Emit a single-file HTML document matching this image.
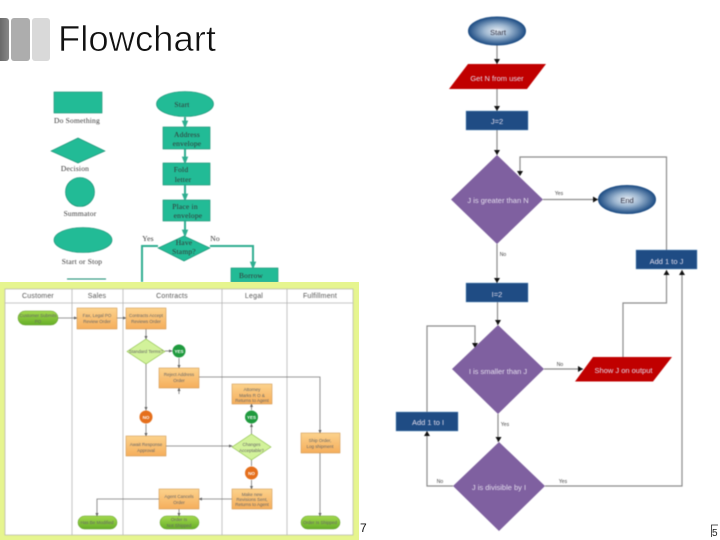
<!DOCTYPE html>
<html><head><meta charset="utf-8"><style>
html,body{margin:0;padding:0;background:#fff;width:720px;height:540px;overflow:hidden}
svg{display:block;position:absolute;left:0;top:0}
text{font-family:"Liberation Sans",sans-serif}
.s text{font-family:"Liberation Serif",serif;font-size:7.5px;fill:#333;text-anchor:middle;letter-spacing:.2px}
.l text{font-size:4.5px;fill:#666;text-anchor:middle}
.l .h{font-size:7px;fill:#555;letter-spacing:.2px}
.l .w{fill:#fff;font-weight:bold}
.r text{text-anchor:middle;font-size:7.5px;fill:#e2dcec}
.r .t{font-size:5px;fill:#444}
.r .d{fill:#334}
</style></head><body>
<svg width="720" height="540" viewBox="0 0 720 540">
<defs>
<linearGradient id="b1" x1="0" x2="1" y1="0" y2="0"><stop offset="0" stop-color="#555"/><stop offset="1" stop-color="#888"/></linearGradient>
<radialGradient id="e"><stop offset="0" stop-color="#e8eef5"/><stop offset=".45" stop-color="#9db6d0"/><stop offset="1" stop-color="#1f4e85"/></radialGradient>
<linearGradient id="o" x1="0" x2="0" y1="0" y2="1"><stop offset="0" stop-color="#fcd28c"/><stop offset="1" stop-color="#f5ae5c"/></linearGradient>
<linearGradient id="g" x1="0" x2="0" y1="0" y2="1"><stop offset="0" stop-color="#a3d94e"/><stop offset="1" stop-color="#66ae28"/></linearGradient>
<marker id="at" viewBox="0 0 10 10" refX="8" refY="5" markerWidth="4" markerHeight="4" orient="auto"><path d="M0 1L10 5L0 9z" fill="#2fae90"/></marker>
<marker id="ag" viewBox="0 0 10 10" refX="8" refY="5" markerWidth="5" markerHeight="5" orient="auto"><path d="M0 1L10 5L0 9z" fill="#666"/></marker>
</defs>

<!-- title bars -->
<g style="filter:blur(.3px)">
<rect x="-6" y="18" width="15" height="43" rx="3" fill="url(#b1)"/>
<rect x="11" y="18" width="19" height="43" rx="3" fill="#adadad"/>
<rect x="32" y="18" width="18" height="43" rx="3" fill="#d9d9d9"/>
</g>
<text x="58" y="51" font-size="36" textLength="158" lengthAdjust="spacingAndGlyphs" fill="#111" stroke="#fff" stroke-width=".6">Flowchart</text>

<!-- teal flowchart -->
<g class="s" style="filter:blur(.4px)">
<g fill="#22bb96" stroke="#128a6c" stroke-width=".6">
<rect x="54" y="92" width="48" height="21"/>
<polygon points="51,151 78,138 105,151 78,163"/>
<circle cx="80" cy="192" r="14.5"/>
<ellipse cx="83" cy="240" rx="29" ry="12.5"/>
<ellipse cx="185" cy="104" rx="28.5" ry="12.5"/>
<rect x="163" y="127" width="47" height="22"/>
<rect x="163" y="163" width="47" height="22"/>
<rect x="163" y="200" width="47" height="21"/>
<polygon points="158,248 184,236 210,248 184,261"/>
<rect x="231" y="268" width="47" height="14"/>
</g>
<g stroke="#2fae90" stroke-width="2" fill="none">
<path d="M185 117V127" marker-end="url(#at)"/>
<path d="M185 149V163" marker-end="url(#at)"/>
<path d="M185 185V200" marker-end="url(#at)"/>
<path d="M185 221V236" marker-end="url(#at)"/>
<path d="M158 246H142V282"/>
<path d="M210 246H253V268" marker-end="url(#at)"/>
</g>
<path d="M67 279H106" stroke="#128a6c" stroke-width="1"/>
<text x="77" y="123">Do Something</text>
<text x="75" y="171">Decision</text>
<text x="80" y="216">Summator</text>
<text x="82" y="264">Start or Stop</text>
<text x="182" y="107">Start</text>
<text x="187" y="137">Address</text>
<text x="187" y="146">envelope</text>
<text x="181" y="172">Fold</text>
<text x="183" y="182">letter</text>
<text x="185" y="209">Place in</text>
<text x="188" y="218">envelope</text>
<text x="184" y="245">Have</text>
<text x="184" y="254">Stamp?</text>
<text x="148" y="241">Yes</text>
<text x="215" y="241">No</text>
<text x="251" y="278">Borrow</text>
</g>

<!-- swimlane -->
<rect x="0" y="282" width="359" height="258" fill="#e6f58f"/>
<g class="l" style="filter:blur(.45px)">
<rect x="5" y="289" width="348" height="246" fill="#fff" stroke="#aaa" stroke-width=".6"/>
<g stroke="#b5b5b5" stroke-width=".8">
<path d="M5 303H353M72 289V535M123 289V535M222 289V535M287 289V535"/>
</g>
<text class="h" x="38" y="298">Customer</text>
<text class="h" x="97" y="298">Sales</text>
<text class="h" x="172" y="298">Contracts</text>
<text class="h" x="254" y="298">Legal</text>
<text class="h" x="320" y="298">Fulfillment</text>
<g stroke="#777" stroke-width=".8" fill="none">
<path d="M58 318H77" marker-end="url(#ag)"/>
<path d="M117 318H126" marker-end="url(#ag)"/>
<path d="M146 329V339" marker-end="url(#ag)"/>
<path d="M146 364V410" marker-end="url(#ag)"/>
<path d="M165 351H172" marker-end="url(#ag)"/>
<path d="M179 358V368" marker-end="url(#ag)"/>
<path d="M179 394V388" marker-end="url(#ag)"/>
<path d="M199 377H320V433" marker-end="url(#ag)"/>
<path d="M251.5 410V404" marker-end="url(#ag)"/>
<path d="M251.5 434V424" marker-end="url(#ag)"/>
<path d="M146 424V436" marker-end="url(#ag)"/>
<path d="M166 446H232" marker-end="url(#ag)"/>
<path d="M251.5 460V466"/>
<path d="M251.5 480V489" marker-end="url(#ag)"/>
<path d="M232 499H199" marker-end="url(#ag)"/>
<path d="M159 499H97V516" marker-end="url(#ag)"/>
<path d="M179 509V516" marker-end="url(#ag)"/>
<path d="M320 453V516" marker-end="url(#ag)"/>
</g>
<g fill="url(#o)" stroke="#c98d45" stroke-width=".5">
<rect x="77" y="308" width="40" height="21"/>
<rect x="126" y="308" width="40" height="21"/>
<rect x="159" y="368" width="40" height="20"/>
<rect x="232" y="384" width="40" height="20"/>
<rect x="126" y="436" width="40" height="20"/>
<rect x="232" y="489" width="40" height="20"/>
<rect x="159" y="489" width="40" height="20"/>
<rect x="301" y="433" width="39" height="20"/>
</g>
<g fill="#d2f29a" stroke="#8cc04a" stroke-width=".6">
<polygon points="127,351.5 146,339 165,351.5 146,364"/>
<polygon points="232,447 251.5,434 271,447 251.5,460"/>
</g>
<g fill="url(#g)" stroke="#5c9a25" stroke-width=".5">
<rect x="18" y="311" width="40" height="14" rx="7"/>
<rect x="78" y="516" width="39" height="13" rx="6.5"/>
<rect x="160" y="516" width="39" height="13" rx="6.5"/>
<rect x="301" y="516" width="39" height="13" rx="6.5"/>
</g>
<circle cx="179" cy="351" r="6.5" fill="#1f9a3e"/>
<circle cx="251.5" cy="417" r="6.5" fill="#1f9a3e"/>
<circle cx="146" cy="417" r="6.5" fill="#e56f1c"/>
<circle cx="251.5" cy="473" r="6.5" fill="#e56f1c"/>
<text class="w" x="179" y="353">YES</text>
<text class="w" x="251.5" y="419">YES</text>
<text class="w" x="146" y="419">NO</text>
<text class="w" x="251.5" y="475">NO</text>
<text x="38" y="317">Customer Submits</text><text x="38" y="323">PO</text>
<text x="97" y="317">Fax, Legal PO</text><text x="97" y="323">Review Order</text>
<text x="146" y="317">Contracts Accept</text><text x="146" y="323">Reviews Order</text>
<text x="146" y="353">Standard Terms?</text>
<text x="179" y="376">Reject Address</text><text x="179" y="382">Order</text>
<text x="252" y="391">Attorney</text><text x="252" y="397">Marks R O &amp;</text><text x="252" y="402">Returns to Agent</text>
<text x="146" y="446">Await Response</text><text x="146" y="452">Approval</text>
<text x="251.5" y="446">Changes</text><text x="251.5" y="452">Acceptable?</text>
<text x="252" y="496">Make new</text><text x="252" y="501">Revisions Sent,</text><text x="252" y="506">Returns to Agent</text>
<text x="179" y="498">Agent Cancels</text><text x="179" y="504">Order</text>
<text x="320" y="442">Ship Order,</text><text x="320" y="448">Log shipment</text>
<text x="97" y="524">Has Be Modified</text>
<text x="179" y="521">Order Is</text><text x="179" y="527">Not Shipped</text>
<text x="320" y="524">Order Is Shipped</text>
</g>

<text x="360" y="532" font-size="12" fill="#111">7</text>

<!-- right flowchart -->
<g class="r" style="filter:blur(.4px)">
<g fill="none" stroke="#8c8c8c" stroke-width="1.2">
<path d="M497 45V64"/>
<path d="M497 89V111"/>
<path d="M497 130V155"/>
<path d="M666.5 250V157H520V175"/>
<path d="M543 199.5H598"/>
<path d="M497 244V283"/>
<path d="M497.5 302V325"/>
<path d="M544 369H583"/>
<path d="M623 357V303H666.5V270"/>
<path d="M498 414V442"/>
<path d="M427 412V326H475V347"/>
<path d="M453 486H427V431"/>
<path d="M545 486H682V270"/>
</g>
<g fill="#111">
<polygon points="494,59 500,59 497,64"/>
<polygon points="494,106 500,106 497,111"/>
<polygon points="494,150 500,150 497,155"/>
<polygon points="517,171 523,171 520,176"/>
<polygon points="593,196.5 593,202.5 598,199.5"/>
<polygon points="494,278 500,278 497,283"/>
<polygon points="495,320 501,320 498,325"/>
<polygon points="578,366 578,372 583,369"/>
<polygon points="663.5,275 669.5,275 666.5,270"/>
<polygon points="679,275 685,275 682,270"/>
<polygon points="495.5,437 501.5,437 498.5,442"/>
<polygon points="472,343 478,343 475,348"/>
<polygon points="424,436 430,436 427,431"/>
</g>
<ellipse cx="497" cy="31" rx="28.5" ry="14" fill="url(#e)" stroke="#1f4e85"/>
<ellipse cx="627" cy="199.5" rx="28.5" ry="14" fill="url(#e)" stroke="#1f4e85"/>
<polygon points="468,64 546,64 527,89 449,89" fill="#c00000"/>
<polygon points="593,357 672,357 653,381.500 575,381.500" fill="#c00000"/>
<g fill="#1f4c84" stroke="#5b8fc0" stroke-width=".4">
<rect x="466" y="111" width="62" height="19"/>
<rect x="636" y="250" width="61" height="19"/>
<rect x="466" y="283" width="62" height="19"/>
<rect x="396" y="412" width="62" height="19"/>
</g>
<g fill="#7f60a0">
<polygon points="497,155 543,199.500 497,244 451,199.500"/>
<polygon points="498,325 544,369 498,414 452,369"/>
<polygon points="499,442 545,486 499,531 453,486"/>
</g>
<text class="d" x="498" y="35">Start</text>
<text class="d" x="627" y="203">End</text>
<text x="497" y="81" fill="#f3d0d0">Get N from user</text>
<text x="497" y="124">J=2</text>
<text x="497" y="297">I=2</text>
<text x="666.500" y="264">Add 1 to J</text>
<text x="428" y="425">Add 1 to I</text>
<text x="498" y="203">J is greater than N</text>
<text x="498" y="374">I is smaller than J</text>
<text x="499" y="490">J is divisible by I</text>
<text x="623.500" y="373" fill="#f3d0d0">Show J on output</text>
<text class="t" x="559" y="195">Yes</text>
<text class="t" x="503" y="256">No</text>
<text class="t" x="560" y="366">No</text>
<text class="t" x="505" y="426">Yes</text>
<text class="t" x="440" y="483">No</text>
<text class="t" x="563" y="483">Yes</text>
</g>

<!-- corner fragment -->
<path d="M711.500 537V525H718" fill="none" stroke="#222" stroke-width=".8"/>
<text x="712" y="536" font-size="10" fill="#222">5</text>
</svg>
</body></html>
